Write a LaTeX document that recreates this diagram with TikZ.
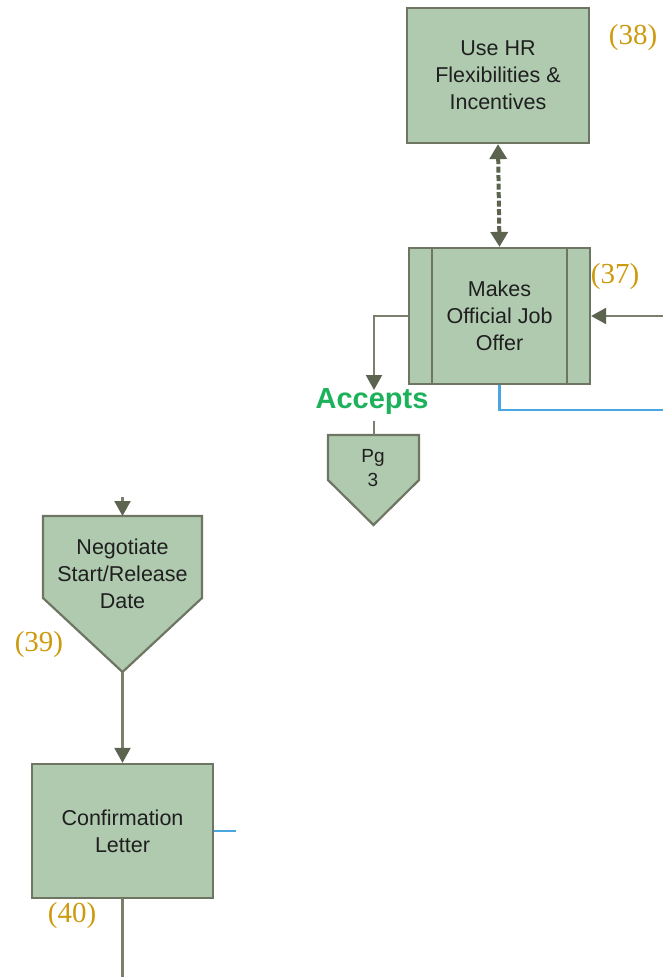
\documentclass[tikz,border=0pt]{standalone}
\usepackage{fontspec}
\setmainfont{Liberation Sans}
\newfontfamily\numfont{Liberation Serif}
\usetikzlibrary{arrows.meta,calc}
\definecolor{boxfill}{HTML}{AFCAAF}
\definecolor{boxedge}{HTML}{6E7562}
\definecolor{arrowcol}{HTML}{5C6450}
\definecolor{linecol}{HTML}{7A7F6E}
\definecolor{linkblue}{HTML}{4AA6E0}
\definecolor{okgreen}{HTML}{1CB25B}
\definecolor{stepnum}{HTML}{CC9A0C}
\tikzset{
  x=1pt, y=-1pt,
  procbox/.style={draw=boxedge, fill=boxfill, line width=2.2pt, inner sep=0pt,
    align=center, font=\fontsize{21.5}{27}\selectfont, text=black!88},
  pentshape/.style={draw=boxedge, fill=boxfill, line width=2.2pt},
  pentlabel/.style={inner sep=0pt, align=center, text=black!88},
  numlabel/.style={text=stepnum, inner sep=0pt, font=\numfont\fontsize{29}{29}\selectfont},
  flow/.style={draw=linecol, line width=2.2pt, -{Triangle[width=16pt,length=15pt,color=arrowcol]}},
  plainflow/.style={draw=linecol, line width=2.2pt},
  bluelink/.style={draw=linkblue, line width=2.6pt},
}
\begin{document}
\begin{tikzpicture}
\useasboundingbox (0,0) rectangle (663,977);

% step 38
\node[procbox, minimum width=182pt, minimum height=135pt] (b38) at (498,75.5)
  {Use HR\\Flexibilities \&\\Incentives};
\node[numlabel] (n38) at (633,38) {(38)};

% step 37 (predefined process)
\node[procbox, minimum width=181pt, minimum height=136pt] (b37) at (499.5,316)
  {Makes\\Official Job\\Offer};
\draw[boxedge, line width=2.2pt] ($(b37.north west)+(24,0)$) -- ($(b37.south west)+(24,0)$);
\draw[boxedge, line width=2.2pt] ($(b37.north east)+(-24,0)$) -- ($(b37.south east)+(-24,0)$);
\node[numlabel] (n37) at (615,277) {(37)};

% dashed two-way link between 38 and 37
\draw[draw=arrowcol, line width=4pt, dash pattern=on 6pt off 2.5pt,
  {Triangle[width=17pt,length=15pt,color=arrowcol]}-{Triangle[width=17pt,length=15pt,color=arrowcol]}]
  (b38.south) -- (b37.north);

% incoming from the right
\coordinate (inR) at (663,316);
\draw[flow] (inR) -- (b37.east);

% accepts branch to page connector
\node[inner sep=0pt, text=okgreen, font=\bfseries\fontsize{29}{29}\selectfont] (acc) at (372,402) {Accepts};
\coordinate (accTip) at (374,390);
\draw[flow] (b37.west) -| (accTip);
\path[pentshape] (328,435) -- (419,435) -- (419,480) -- (373.5,525) -- (328,480) -- cycle;
\node[pentlabel, font=\fontsize{19}{24}\selectfont] (pg3) at (373,468) {Pg\\3};
\coordinate (pgTop) at (374,435);
\draw[plainflow] (374,421) -- (pgTop);

% blue link leaving 37
\coordinate (blueEnd) at (663,410);
\draw[bluelink] (b37.south) |- (blueEnd);

% step 39 (off-page style pentagon)
\path[pentshape] (43,516) -- (202,516) -- (202,598) -- (122.5,672) -- (43,598) -- cycle;
\node[pentlabel, font=\fontsize{21.5}{27}\selectfont] (b39) at (122.5,574)
  {Negotiate\\Start/Release\\Date};
\coordinate (top39) at (122.5,516);
\coordinate (tip39) at (122.5,672);
\coordinate (from39) at (122.5,497);
\draw[flow] (from39) -- (top39);
\node[numlabel] (n39) at (39,645) {(39)};

% step 40
\node[procbox, minimum width=181pt, minimum height=134pt] (b40) at (122.5,831)
  {Confirmation\\Letter};
\draw[flow] (tip39) -- (b40.north);
\node[numlabel] (n40) at (72,916) {(40)};
\coordinate (blue40) at (236,831);
\draw[bluelink] (b40.east) -- (blue40);
\coordinate (down40) at (122.5,977);
\draw[plainflow] (b40.south) -- (down40);
\end{tikzpicture}
\end{document}
